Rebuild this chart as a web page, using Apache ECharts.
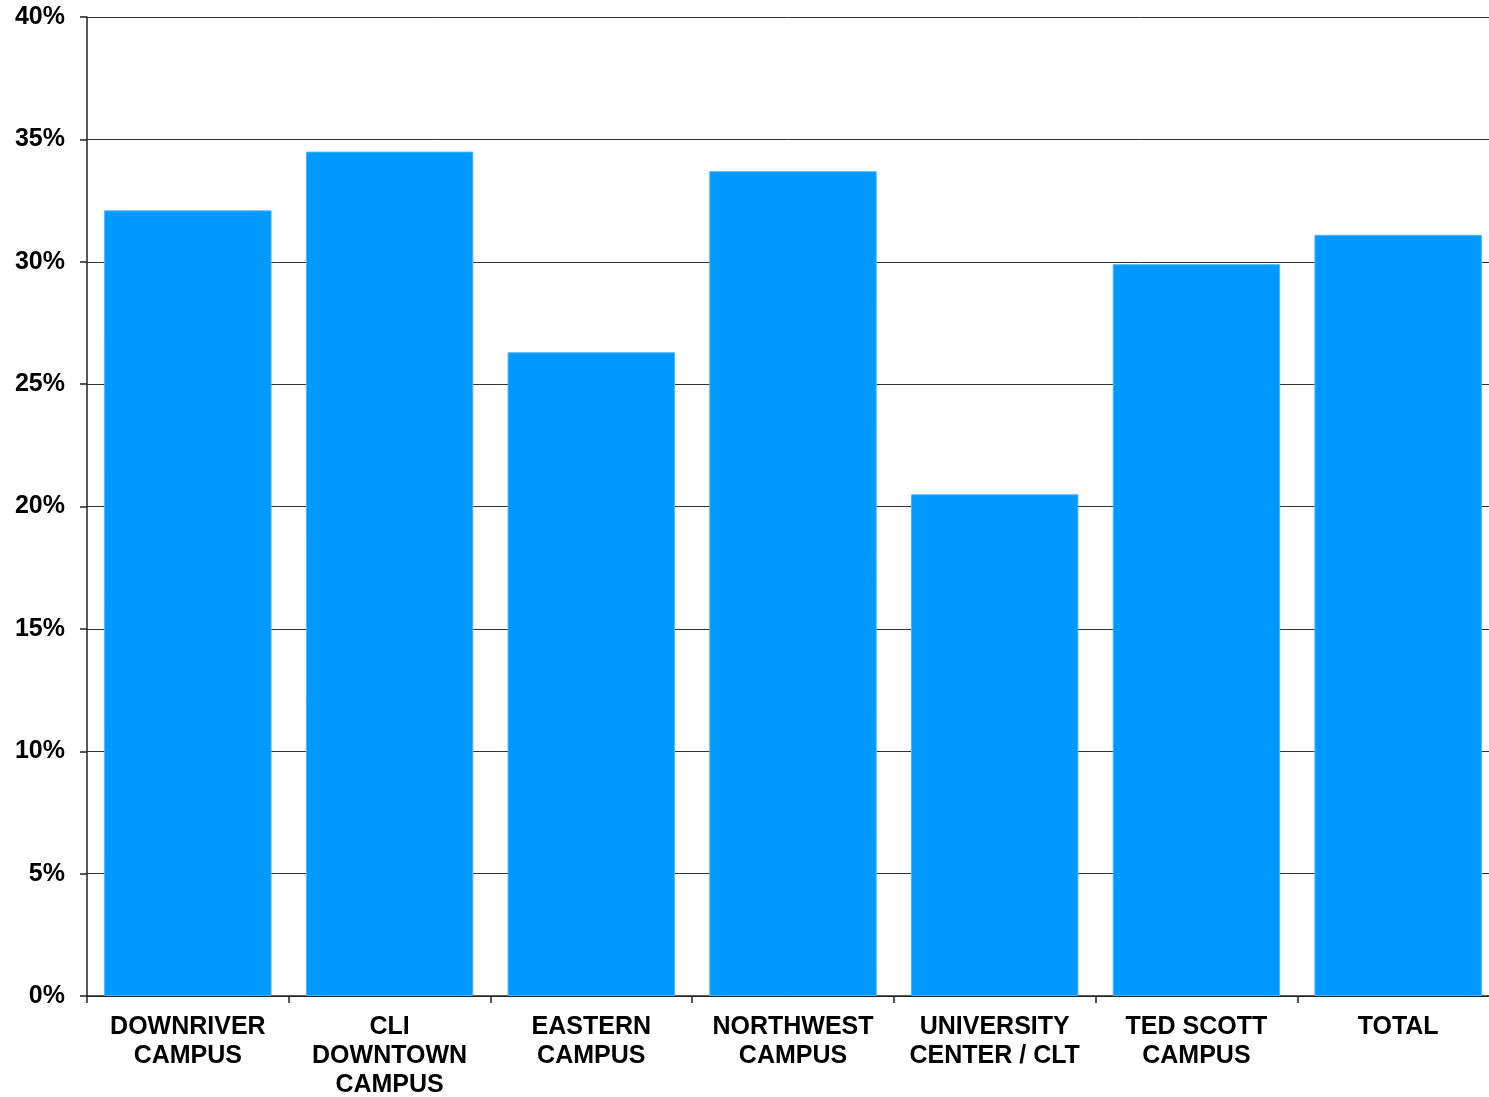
<!DOCTYPE html>
<html>
<head>
<meta charset="utf-8">
<script src="https://cdn.jsdelivr.net/npm/echarts@6/dist/echarts.min.js"></script>
<style>html,body{margin:0;padding:0;background:#fff;overflow:hidden}#c{width:1489px;height:1097px}</style>
</head>
<body>
<div id="c"></div>
<script>
const categories = ['DOWNRIVER\nCAMPUS', 'CLI\nDOWNTOWN\nCAMPUS', 'EASTERN\nCAMPUS', 'NORTHWEST\nCAMPUS', 'UNIVERSITY\nCENTER / CLT', 'TED SCOTT\nCAMPUS', 'TOTAL'];
const values = [32.1, 34.5, 26.3, 33.7, 20.5, 29.9, 31.1];
const yTicks = { min: 0, max: 40, interval: 5 };

const chart = echarts.init(document.getElementById('c'), null, { renderer: 'canvas' });
chart.setOption({
  animation: false,
  grid: { left: 87, right: -10, top: 17, bottom: 101, containLabel: false, outerBoundsMode: 'none' },
  xAxis: {
    type: 'category',
    data: categories,
    axisLine: { lineStyle: { color: '#222', width: 1.5 } },
    axisTick: { show: true, length: 7, lineStyle: { color: '#222', width: 1.5 } },
    axisLabel: {
      color: '#000', fontFamily: 'Liberation Sans, Arial, sans-serif', fontWeight: 'bold',
      fontSize: 25, lineHeight: 29, margin: 17, interval: 0
    }
  },
  yAxis: {
    type: 'value',
    min: yTicks.min, max: yTicks.max, interval: yTicks.interval,
    axisLine: { show: true, lineStyle: { color: '#222', width: 1.5 } },
    axisTick: { show: true, length: 7, lineStyle: { color: '#222', width: 1.5 } },
    splitLine: { show: true, lineStyle: { color: '#333', width: 1 } },
    axisLabel: {
      color: '#000', fontFamily: 'Liberation Sans, Arial, sans-serif', fontWeight: 'bold',
      fontSize: 25, margin: 22, formatter: v => v + '%'
    }
  },
  series: [{
    type: 'bar',
    data: values,
    barCategoryGap: '17%',
    itemStyle: { color: '#0099FF', borderColor: '#4db3ff', borderWidth: 1 }
  }]
});
</script>
</body>
</html>
